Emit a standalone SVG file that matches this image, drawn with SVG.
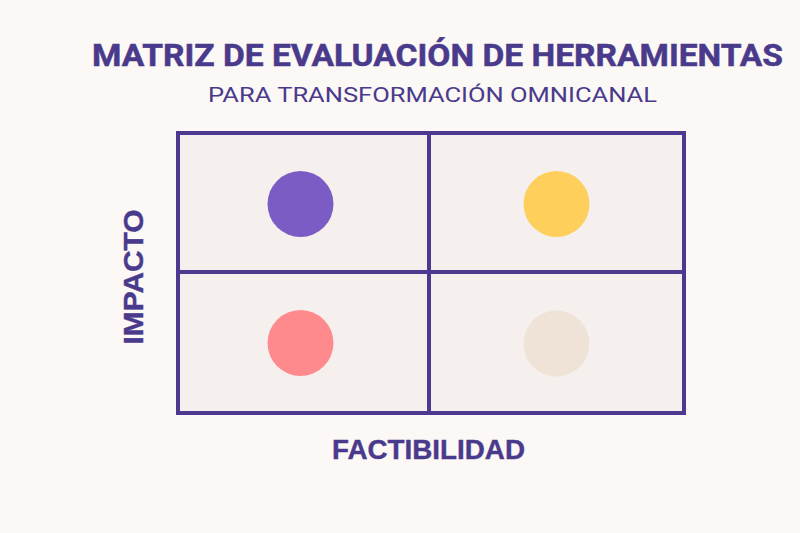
<svg xmlns="http://www.w3.org/2000/svg" width="800" height="533" viewBox="0 0 800 533">
<style>
.title{font-family:Roboto,"Liberation Sans",sans-serif;font-weight:700;fill:#4A3A8C;stroke:#4A3A8C;stroke-width:0.5}
.sub{font-family:Roboto,"Liberation Sans",sans-serif;font-weight:400;fill:#4A3A8C}
.axis{font-family:"Liberation Sans",Arial,sans-serif;font-weight:700;fill:#4A3A8C;stroke:#4A3A8C;stroke-width:0.4}
.cell{fill:#F5F0EE}
.grid{fill:none;stroke:#4B3A8F;stroke-width:4}
</style>
<rect width="800" height="533" fill="#FBF8F5"/>
<text class="title" x="92" y="65.5" font-size="31" textLength="691" lengthAdjust="spacingAndGlyphs">MATRIZ DE EVALUACIÓN DE HERRAMIENTAS</text>
<text class="sub" x="208" y="101.5" font-size="21" textLength="449" lengthAdjust="spacingAndGlyphs">PARA TRANSFORMACIÓN OMNICANAL</text>
<g id="matrix">
<rect class="cell" x="178" y="133" width="506" height="280"/>
</g>
<g id="connectors">
<rect class="grid" x="178" y="133" width="506" height="280"/>
<line class="grid" x1="429" y1="133" x2="429" y2="413"/>
<line class="grid" x1="178" y1="272" x2="684" y2="272"/>
</g>
<g id="q1"><circle cx="300.5" cy="204" r="33" fill="#7B5CC4"/></g>
<g id="q2"><circle cx="556.5" cy="204" r="33" fill="#FFCF5C"/></g>
<g id="q3"><circle cx="300.5" cy="343" r="33" fill="#FF8A8E"/></g>
<g id="q4"><circle cx="556.5" cy="343.5" r="33" fill="#EFE3D8"/></g>
<text class="axis" transform="translate(143,277) rotate(-90)" text-anchor="middle" font-size="27" textLength="135" lengthAdjust="spacingAndGlyphs">IMPACTO</text>
<text class="axis" x="428.5" y="458.5" text-anchor="middle" font-size="27" textLength="193" lengthAdjust="spacingAndGlyphs">FACTIBILIDAD</text>
</svg>
